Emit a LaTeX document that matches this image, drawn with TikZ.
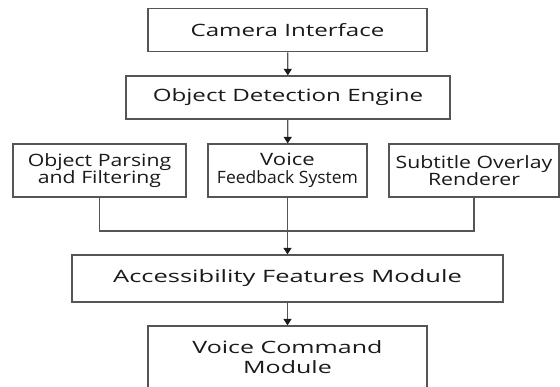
\documentclass[tikz,border=0pt]{standalone}
\usepackage{fontspec}
\setmainfont[FakeStretch=1.4]{Open Sans}
\usetikzlibrary{arrows.meta}
\definecolor{linegray}{HTML}{555555}
\definecolor{inkgray}{HTML}{1A1A1A}
% horizontal stretch of a label's letters
\newcommand{\wide}[1]{\addfontfeature{FakeStretch=#1}}
\begin{document}
\begin{tikzpicture}[x=1pt,y=-1pt,
  box/.style={draw=linegray, line width=1.2pt, fill=white, rectangle, inner sep=0pt,
    text=inkgray, align=center, font=\fontsize{17}{17.5}\selectfont},
  link/.style={draw=linegray, line width=1.2pt},
  arr/.style={link, -{Triangle[length=6.5pt,width=8pt,color=inkgray]}}]
\useasboundingbox (0,0) rectangle (560,387);
\clip (0,0) rectangle (560,387);
\fill[white] (0,0) rectangle (560,387);

% boxes
\node[box, minimum width=279pt, minimum height=43.5pt] (cam) at (287.5,30) {\wide{1.42}Camera Interface};
\node[box, minimum width=324pt, minimum height=43pt] (od) at (288,97.5) {\wide{1.42}Object Detection Engine};
\node[box, minimum width=173pt, minimum height=53pt] (pars) at (99.5,170.5) {\wide{1.25}Object Parsing\\\wide{1.25}and Filtering};
\node[box, minimum width=159pt, minimum height=53pt] (voice) at (287.5,170.5) {\wide{1.3}Voice\\\wide{1.03}Feedback System};
\node[box, minimum width=170pt, minimum height=53pt] (sub) at (474,170.5) {\wide{1.25}Subtitle Overlay\\\wide{1.25}Renderer};
\node[box, minimum width=431pt, minimum height=47pt] (acc) at (287.5,278.5) {\wide{1.5}Accessibility Features Module};
\node[box, minimum width=279pt, minimum height=66pt] (vc) at (287.5,359) {};
\node[box, draw=none, fill=none, font=\fontsize{17}{20}\selectfont] (vclbl) at (287.5,357)
  {\wide{1.47}Voice Command\\\wide{1.47}Module};

% connectors
\coordinate (join) at (287.5,231);
\draw[arr] (cam) -- (od);
\draw[arr] (od) -- (voice);
\draw[link] (pars.south) |- (join);
\draw[link] (sub.south) |- (join);
\draw[arr] (voice.south) -- (acc.north);
\draw[arr] (acc) -- (vc);
\end{tikzpicture}
\end{document}
